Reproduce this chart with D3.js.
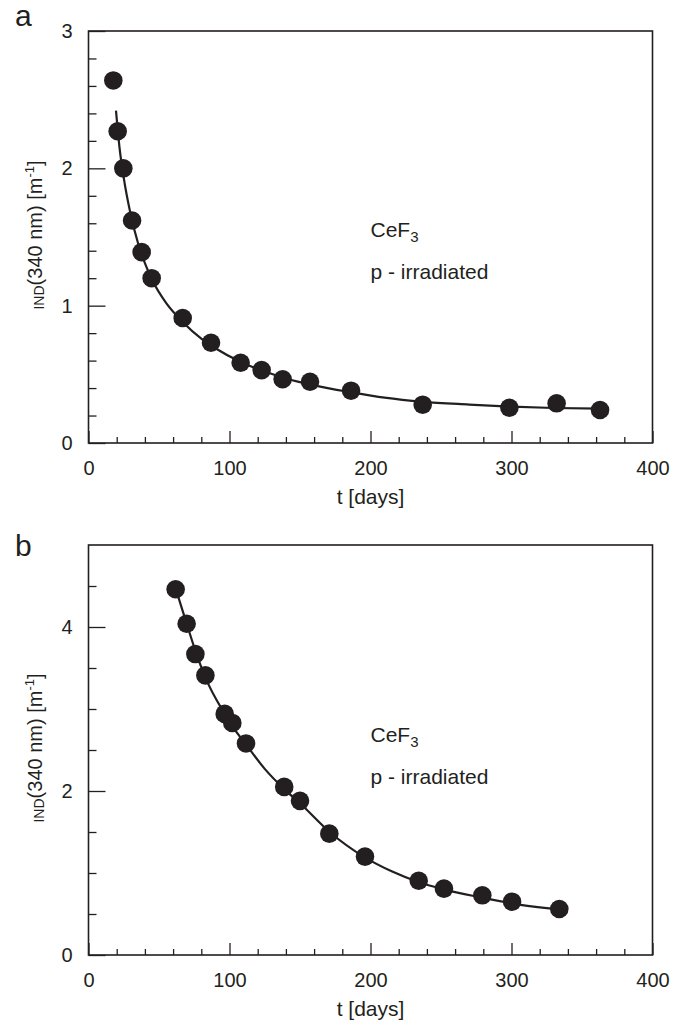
<!DOCTYPE html>
<html>
<head>
<meta charset="utf-8">
<script src="https://cdn.jsdelivr.net/npm/d3@7"></script>
<style>
  body { margin: 0; background: #fff; }
  svg { display: block; font-family: "Liberation Sans", Arial, sans-serif; }
</style>
</head>
<body>
<div id="chart"></div>
<script>
// panel a: measured points + fitted curve
var daysA   = [17.6, 20.7, 24.7, 30.9, 37.7, 44.8, 66.8, 86.9, 107.9, 122.8, 137.7, 157.1, 186.2, 237, 298.5, 332, 362.8];
var valuesA = [2.64, 2.27, 2.00, 1.62, 1.39, 1.20, 0.91, 0.73, 0.584, 0.531, 0.464, 0.446, 0.381, 0.279, 0.257, 0.289, 0.24];
var fitDaysA   = [19.5, 22, 25, 30, 35, 40, 45, 55, 67, 80, 90, 108, 125, 140, 160, 186, 210, 237, 270, 300, 330, 363];
var fitValuesA = [2.42, 2.15, 1.93, 1.66, 1.46, 1.31, 1.19, 1.02, 0.88, 0.76, 0.69, 0.59, 0.52, 0.47, 0.42, 0.37, 0.33, 0.30, 0.28, 0.265, 0.255, 0.25];

// panel b
var daysB   = [61.8, 69.6, 75.8, 82.9, 96.6, 102, 111.7, 138.8, 150, 170.8, 196.1, 234.2, 252.1, 279.3, 300.4, 333.9];
var valuesB = [4.46, 4.04, 3.67, 3.41, 2.94, 2.83, 2.58, 2.05, 1.88, 1.48, 1.20, 0.906, 0.809, 0.728, 0.65, 0.561];
var fitDaysB   = [62, 70, 76, 83, 97, 102, 112, 125, 139, 150, 171, 196, 215, 234, 252, 279, 300, 334];
var fitValuesB = [4.46, 4.02, 3.70, 3.38, 2.93, 2.79, 2.56, 2.27, 2.02, 1.85, 1.50, 1.19, 1.02, 0.89, 0.80, 0.70, 0.63, 0.555];

var xMajor = [0, 100, 200, 300, 400];
var xMinor = d3.range(20, 400, 20).filter(d => d % 100 !== 0);
var yMajorA = [0, 1, 2, 3];
var yMinorA = d3.range(0.2, 3, 0.2).filter(d => Math.abs(d - Math.round(d)) > 0.01);
var yMajorB = [0, 2, 4];
var yMinorB = [0.5, 1, 1.5, 2.5, 3, 3.5, 4.5];

var ink = "#231f20";
var W = 673, H = 1025;

var svg = d3.select("#chart").append("svg")
    .attr("width", W)
    .attr("height", H);

function drawPanel(p) {
  var x = d3.scaleLinear().domain([0, 400]).range([88.5, 652.5]);
  var y = d3.scaleLinear().domain([0, p.yMax]).range([p.bottom, p.top]);
  var g = svg.append("g");

  // minor / major ticks on x (pointing inward)
  g.append("g")
      .attr("transform", "translate(0," + p.bottom + ")")
      .call(d3.axisBottom(x).tickValues(xMinor).tickSize(-6).tickFormat(""))
      .call(a => a.select(".domain").remove());
  g.append("g")
      .attr("transform", "translate(0," + p.bottom + ")")
      .call(d3.axisBottom(x).tickValues(xMajor).tickSize(-12).tickPadding(18).tickFormat(d3.format("d")))
      .call(a => a.select(".domain").remove());

  // y ticks
  g.append("g")
      .attr("transform", "translate(" + x(0) + ",0)")
      .call(d3.axisLeft(y).tickValues(p.yMinor).tickSize(-8).tickFormat(""))
      .call(a => a.select(".domain").remove());
  g.append("g")
      .attr("transform", "translate(" + x(0) + ",0)")
      .call(d3.axisLeft(y).tickValues(p.yMajor).tickSize(-17).tickPadding(16).tickFormat(d3.format("d")))
      .call(a => a.select(".domain").remove());

  g.selectAll(".tick line").attr("stroke", ink).attr("stroke-width", 1.3);
  g.selectAll(".tick text").attr("fill", ink).style("font-size", "20px")
      .style("font-family", "'Liberation Sans', Arial, sans-serif");

  // frame
  g.append("rect")
      .attr("x", x(0)).attr("y", y(p.yMax))
      .attr("width", x(400) - x(0)).attr("height", y(0) - y(p.yMax))
      .attr("fill", "none").attr("stroke", ink).attr("stroke-width", 1.6);

  // fitted curve
  var fit = p.fitDays.map((d, i) => [d, p.fitValues[i]]);
  g.append("path")
      .datum(fit)
      .attr("fill", "none")
      .attr("stroke", ink)
      .attr("stroke-width", 2.2)
      .attr("d", d3.line().x(d => x(d[0])).y(d => y(d[1])).curve(d3.curveMonotoneX));

  // data points
  g.selectAll("circle.pt")
      .data(p.days.map((d, i) => [d, p.values[i]]))
    .enter().append("circle")
      .attr("class", "pt")
      .attr("cx", d => x(d[0]))
      .attr("cy", d => y(d[1]))
      .attr("r", 9.3)
      .attr("fill", ink);

  // x label
  g.append("text")
      .attr("x", x(200)).attr("y", p.bottom + 61)
      .attr("text-anchor", "middle")
      .attr("fill", ink).style("font-size", "21px")
      .text("t [days]");

  // y label with sub/superscripts
  var yl = g.append("text")
      .attr("transform", "translate(42," + ((p.top + p.bottom) / 2 - 2) + ") rotate(-90)")
      .attr("text-anchor", "middle")
      .attr("fill", ink).style("font-size", "20px");
  yl.append("tspan").attr("dy", 2).style("font-size", "14px").text("IND");
  yl.append("tspan").attr("dy", -2).text("(340 nm) [m");
  yl.append("tspan").attr("dy", -8).style("font-size", "13px").text("-1");
  yl.append("tspan").attr("dy", 8).text("]");

  // annotation
  var t1 = g.append("text")
      .attr("x", 370.5).attr("y", p.top + p.noteY)
      .attr("fill", ink).style("font-size", "21px");
  t1.append("tspan").text("CeF");
  t1.append("tspan").attr("dy", 5).style("font-size", "15px").text("3");
  g.append("text")
      .attr("x", 370.5).attr("y", p.top + p.noteY + 42)
      .attr("fill", ink).style("font-size", "21px")
      .text("p - irradiated");

  // panel letter
  g.append("text")
      .attr("x", 15).attr("y", p.top + p.letterDy)
      .attr("fill", ink).style("font-size", "30px")
      .text(p.letter);
}

drawPanel({letter: "a", top: 31, bottom: 443, yMax: 3, yMajor: yMajorA, yMinor: yMinorA,
           days: daysA, values: valuesA, fitDays: fitDaysA, fitValues: fitValuesA, noteY: 206, letterDy: -5});
drawPanel({letter: "b", top: 545, bottom: 955, yMax: 5, yMajor: yMajorB, yMinor: yMinorB,
           days: daysB, values: valuesB, fitDays: fitDaysB, fitValues: fitValuesB, noteY: 197, letterDy: 11});
</script>
</body>
</html>
